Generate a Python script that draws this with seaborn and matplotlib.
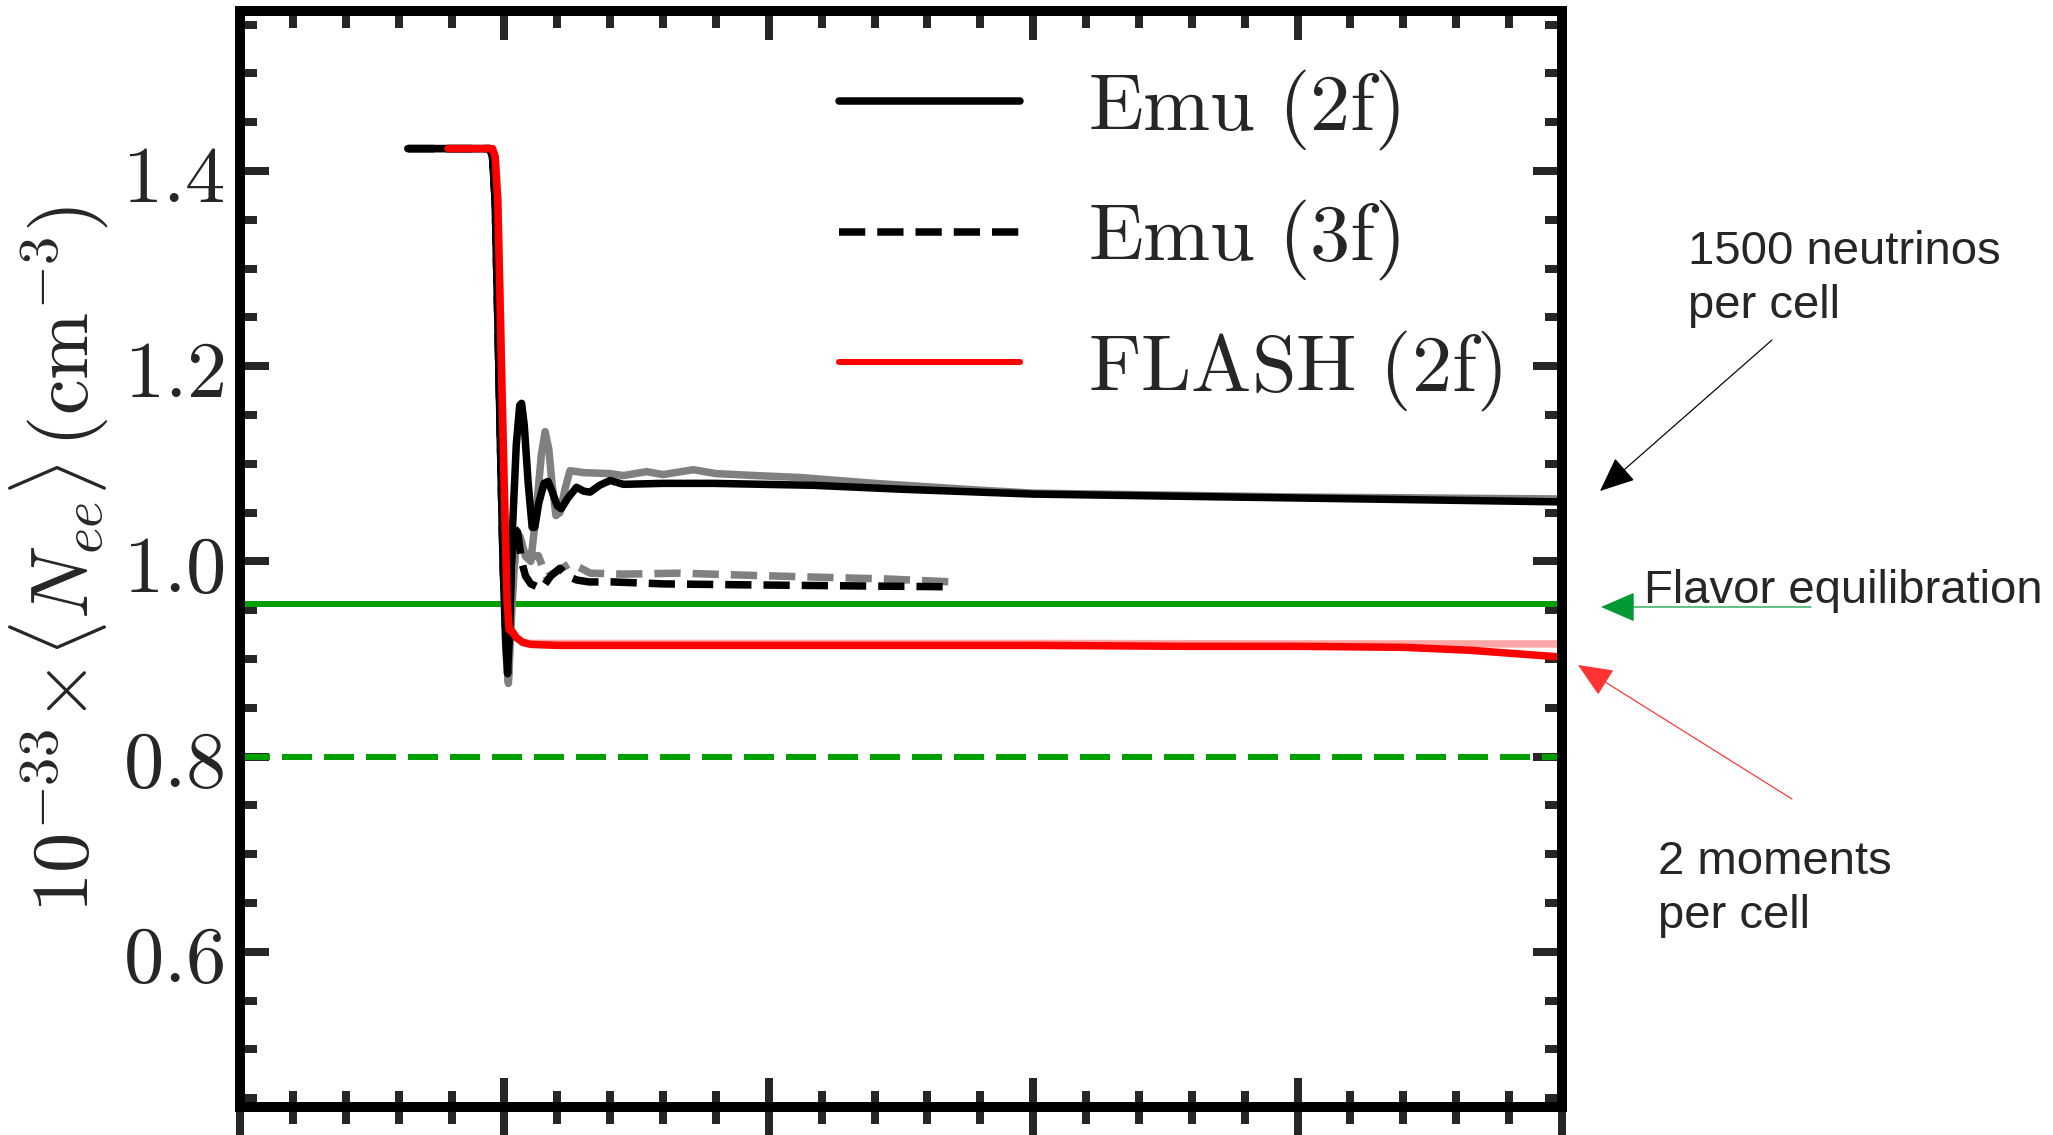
import matplotlib
matplotlib.use("Agg")
import matplotlib.pyplot as plt
from matplotlib.lines import Line2D
from matplotlib.ticker import MultipleLocator, FuncFormatter, NullFormatter
import pandas as pd
import seaborn as sns

# ---------------------------------------------------------------------------
# Domain-averaged electron-flavour number density, 10^-33 <N_ee> (cm^-3)
# ---------------------------------------------------------------------------
emu2f_t = [0.635, 0.90, 0.945, 0.955, 0.965, 0.975, 0.985, 0.995, 1.005, 1.012,
           1.02, 1.03, 1.045, 1.058, 1.065, 1.075, 1.09, 1.105, 1.115, 1.13,
           1.15, 1.165, 1.18, 1.20, 1.215, 1.24, 1.273, 1.30, 1.324, 1.36,
           1.40, 1.45, 1.60, 1.79, 2.17, 2.50, 2.80, 3.00, 3.50, 4.00, 4.50, 5.00]
emu2f_n = [1.423, 1.423, 1.423, 1.415, 1.37, 1.25, 1.12, 1.00, 0.92, 0.885,
           0.93, 1.03, 1.12, 1.16, 1.162, 1.14, 1.08, 1.035, 1.035, 1.06,
           1.08, 1.082, 1.072, 1.057, 1.054, 1.065, 1.076, 1.072, 1.071, 1.078,
           1.083, 1.079, 1.080, 1.080, 1.078, 1.074, 1.071, 1.069, 1.067, 1.065, 1.063, 1.061]

# second Emu (2f) run, drawn in grey
emu2f_b_t = [0.635, 0.90, 0.945, 0.955, 0.965, 0.975, 0.985, 0.995, 1.005, 1.015,
             1.03, 1.045, 1.06, 1.08, 1.10, 1.12, 1.14, 1.154, 1.168, 1.18,
             1.195, 1.21, 1.23, 1.248, 1.30, 1.40, 1.45, 1.538, 1.60, 1.714,
             1.80, 1.95, 2.118, 2.40, 2.80, 3.00, 4.00, 5.00]
emu2f_b_n = [1.423, 1.423, 1.423, 1.415, 1.37, 1.25, 1.12, 1.00, 0.91, 0.875,
             0.96, 1.03, 1.025, 1.005, 1.000, 1.05, 1.11, 1.133, 1.115, 1.08,
             1.047, 1.05, 1.075, 1.093, 1.091, 1.090, 1.088, 1.092, 1.089, 1.094,
             1.090, 1.088, 1.086, 1.080, 1.073, 1.070, 1.066, 1.064]

emu3f_t = [0.635, 0.90, 0.945, 0.955, 0.965, 0.975, 0.985, 0.995, 1.005, 1.012,
           1.025, 1.035, 1.05, 1.065, 1.08, 1.10, 1.141, 1.175, 1.21, 1.24,
           1.273, 1.32, 1.411, 1.60, 1.916, 2.30, 2.697]
emu3f_n = [1.423, 1.423, 1.423, 1.415, 1.37, 1.25, 1.12, 1.00, 0.93, 0.90,
           0.99, 1.035, 1.03, 1.00, 0.985, 0.977, 0.972, 0.985, 0.993, 0.985,
           0.981, 0.979, 0.979, 0.977, 0.976, 0.975, 0.974]

# second Emu (3f) run, drawn in grey
emu3f_b_t = [0.635, 0.90, 0.945, 0.955, 0.965, 0.975, 0.985, 0.995, 1.005, 1.015,
             1.03, 1.045, 1.059, 1.08, 1.097, 1.128, 1.16, 1.20, 1.248, 1.29,
             1.324, 1.45, 1.664, 1.90, 2.168, 2.45, 2.697]
emu3f_b_n = [1.423, 1.423, 1.423, 1.415, 1.37, 1.25, 1.12, 1.00, 0.92, 0.88,
             0.97, 1.02, 1.021, 1.010, 1.004, 1.006, 0.984, 0.990, 0.998, 0.993,
             0.988, 0.987, 0.988, 0.986, 0.984, 0.982, 0.979]

flash_t = [0.787, 0.955, 0.965, 0.975, 0.985, 0.99, 1.00, 1.01, 1.018, 1.03,
           1.045, 1.07, 1.10, 1.20, 1.50, 2.00, 3.00, 3.60, 4.00, 4.40, 4.65, 4.85, 5.00]
flash_n = [1.423, 1.423, 1.415, 1.37, 1.25, 1.186, 1.07, 0.96, 0.93, 0.928,
           0.922, 0.917, 0.915, 0.914, 0.914, 0.914, 0.914, 0.913, 0.913, 0.912, 0.909, 0.905, 0.902]

# second FLASH run (faint)
flash_b_t = [0.787, 0.955, 0.965, 0.975, 0.985, 0.99, 1.00, 1.01, 1.018, 1.03,
             1.045, 1.07, 1.10, 1.20, 2.00, 3.00, 4.00, 5.00]
flash_b_n = [1.423, 1.423, 1.415, 1.37, 1.25, 1.186, 1.07, 0.96, 0.93, 0.928,
             0.922, 0.917, 0.916, 0.916, 0.916, 0.916, 0.9155, 0.9155]

# reference levels
flavor_equil_level = 0.956
three_flavor_level = 0.80

legend_labels = [r"$\mathrm{Emu\ (2f)}$", r"$\mathrm{Emu\ (3f)}$", r"$\mathrm{FLASH\ (2f)}$"]

# ---------------------------------------------------------------------------
W, H, DPI = 2053, 1135, 100
PT = 72.0 / DPI  # points per pixel

sns.set_style("white")
plt.rcParams.update({
    "mathtext.fontset": "cm",
    "font.family": ["DejaVu Sans"],
    "axes.linewidth": 10 * PT,
    "axes.unicode_minus": False,
})

fig = plt.figure(figsize=(W / DPI, H / DPI), dpi=DPI)
ax_l, ax_r, ax_t, ax_b = 240, 1562, 11, 1107
ax = fig.add_axes([ax_l / W, (H - ax_b) / H, (ax_r - ax_l) / W, (ax_b - ax_t) / H])

lw = 7.5 * PT
dash = (3.5, 1.6)
def draw(t, n, **kw):
    df = pd.DataFrame({"t": t, "n": n})
    sns.lineplot(data=df, x="t", y="n", ax=ax, estimator=None, sort=True,
                 legend=False, **kw)

ax.axhline(flavor_equil_level, color="#00a000", lw=6 * PT, zorder=1.5)
ax.axhline(three_flavor_level, color="#00a000", lw=6 * PT, zorder=1.5,
           dashes=(5, 2))

draw(emu3f_b_t, emu3f_b_n, color="#808080", lw=lw, dashes=dash, zorder=2)
draw(emu2f_b_t, emu2f_b_n, color="#808080", lw=lw, zorder=2.1)
draw(emu3f_t, emu3f_n, color="black", lw=lw, dashes=dash, zorder=2.2)
draw(emu2f_t, emu2f_n, color="black", lw=lw, zorder=2.3)
draw(flash_b_t, flash_b_n, color="red", alpha=0.35, lw=lw, zorder=2.4)
draw(flash_t, flash_n, color="red", lw=lw, zorder=2.5)

ax.set_xlim(0, 5)
ax.set_ylim(0.441, 1.564)
ax.set_xlabel("")
ax.set_ylabel(r"$10^{-33}\!\times\!\langle N_{ee}\rangle\,(\mathrm{cm}^{-3})$",
              fontsize=58, labelpad=8)

ax.xaxis.set_major_locator(MultipleLocator(1))
ax.xaxis.set_minor_locator(MultipleLocator(0.2))
ax.yaxis.set_major_locator(MultipleLocator(0.2))
ax.yaxis.set_minor_locator(MultipleLocator(0.05))
ax.yaxis.set_major_formatter(FuncFormatter(lambda v, p: r"$\mathrm{%.1f}$" % v))
ax.xaxis.set_major_formatter(NullFormatter())

tw = 8 * PT
ax.tick_params(axis="y", which="both", direction="in", left=True, right=True,
               width=tw, labelsize=58, pad=11)
ax.tick_params(axis="y", which="major", length=29 * PT)
ax.tick_params(axis="y", which="minor", length=17 * PT)
ax.tick_params(axis="x", which="both", direction="inout", bottom=True, top=False,
               width=tw, labelbottom=False)
ax.tick_params(axis="x", which="major", length=58 * PT)
ax.tick_params(axis="x", which="minor", length=33 * PT)

sec = ax.secondary_xaxis("top")
sec.xaxis.set_major_locator(MultipleLocator(1))
sec.xaxis.set_minor_locator(MultipleLocator(0.2))
sec.tick_params(axis="x", which="both", direction="in", width=tw, labeltop=False)
sec.tick_params(axis="x", which="major", length=29 * PT)
sec.tick_params(axis="x", which="minor", length=17 * PT)
sec.spines["top"].set_visible(False)

for s in ax.spines.values():
    s.set_linewidth(10 * PT)
    s.set_color("black")

handles = [Line2D([], [], color="black", lw=7.5 * PT),
           Line2D([], [], color="black", lw=7.5 * PT, dashes=dash),
           Line2D([], [], color="red", lw=6 * PT)]
ax.legend(handles, legend_labels, loc="upper left",
          bbox_to_anchor=((839 - ax_l) / (ax_r - ax_l), 1 - (67 - ax_t) / (ax_b - ax_t)),
          frameon=False, fontsize=58, borderpad=0, borderaxespad=0,
          handlelength=2.25, handletextpad=0.84, labelspacing=0.57)

# annotations on the right-hand side (baseline of the last line given)
note_kw = dict(fontsize=34, family=["Liberation Sans", "DejaVu Sans"],
               va="baseline", ha="left", linespacing=1.3)
fig.text(1688 / W, 1 - 318 / H, "1500 neutrinos\nper cell", **note_kw)
fig.text(1644 / W, 1 - 603 / H, "Flavor equilibration", **note_kw)
fig.text(1658 / W, 1 - 928 / H, "2 moments\nper cell", **note_kw)

def arrow(tail, tip, color):
    ax.annotate("", xy=(tip[0], H - tip[1]), xycoords="figure pixels",
                xytext=(tail[0], H - tail[1]), textcoords="figure pixels",
                arrowprops=dict(arrowstyle="-|>,head_length=2.2,head_width=0.95",
                                mutation_scale=10, color=color, lw=1.2 * PT,
                                shrinkA=0, shrinkB=0),
                annotation_clip=False)

arrow((1772, 340), (1600, 491), "black")
arrow((1811, 607), (1601, 607), "#009933")
arrow((1792, 799), (1578, 665), "#ff3333")

fig.savefig("out.png", dpi=DPI)
